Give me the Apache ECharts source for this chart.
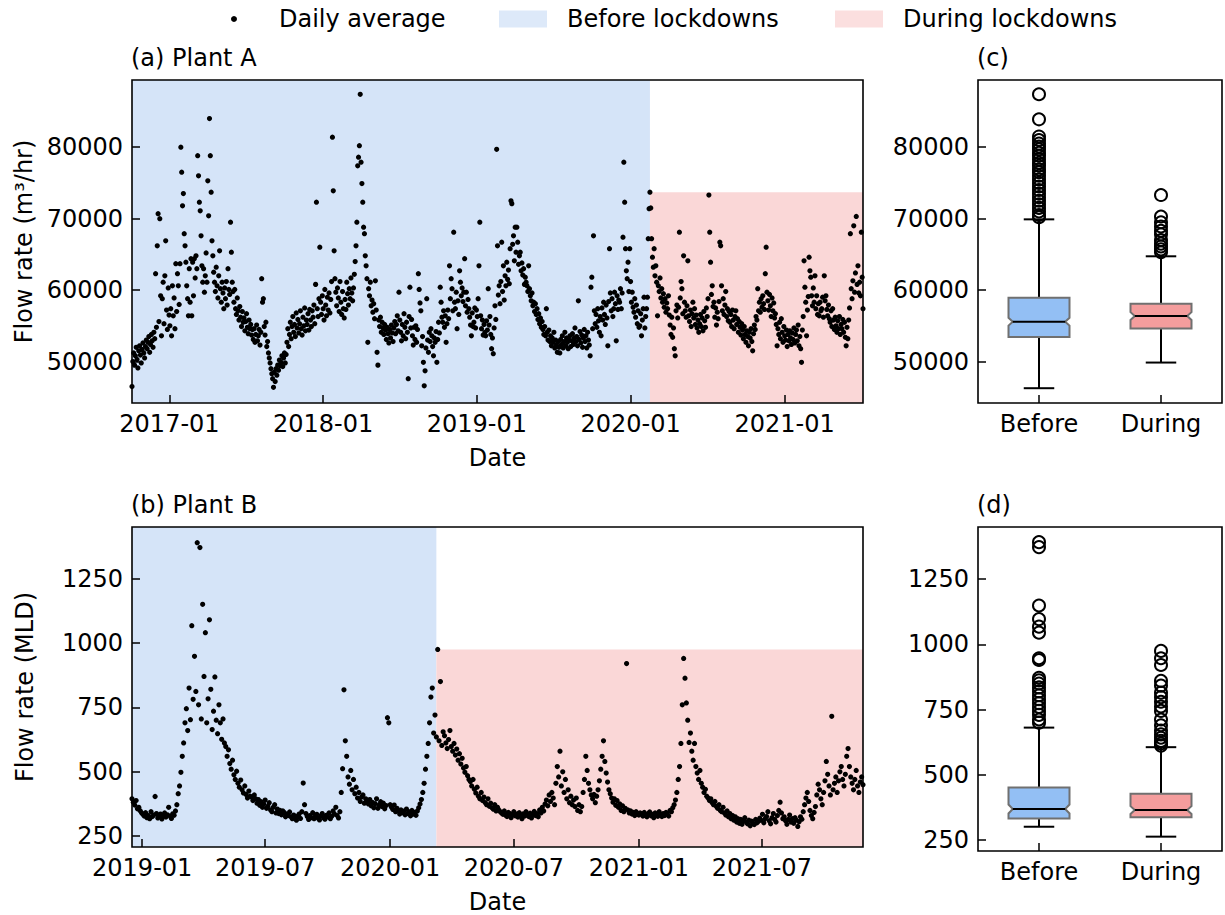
<!DOCTYPE html>
<html>
<head>
<meta charset="utf-8">
<script src="https://cdn.jsdelivr.net/npm/echarts@6/dist/echarts.min.js"></script>
<style>html,body{margin:0;padding:0;background:#fff}#chart{width:1225px;height:915px}</style>
</head>
<body>
<div id="chart"></div>
<script>
// ================= DATA =================
// Sampling step of the daily-average series (days)
const STEP_DAYS = 2;

// Plant A, daily average flow, in units of 100 m3/hr
const plantAStart = '2016-10-04';
const plantALockdown = '2020-02-16';
const plantABefore = [
  465,500,512,495,508,520,503,491,515,522,509,498,517,526,512,505,521,530,518,527,535,513,524,538,529,520,
  541,532,623,548,662,707,556,700,592,536,588,611,553,620,669,572,545,603,565,
  550,574,536,606,564,589,546,637,570,623,606,580,637,800,765,718,735,679,662,639,606,
  588,564,630,583,644,564,639,592,644,617,648,630,788,760,723,
  711,676,634,611,630,597,620,652,611,753,704,840,788,737,669,648,
  625,611,598,632,606,589,620,655,602,583,611,596,574,603,588,612,579,630,601,594,695,653,611,598,
  583,601,574,566,589,571,558,577,562,549,570,555,561,543,556,567,548,539,558,546,552,537,545,531,
  546,527,538,551,529,536,545,523,541,616,583,588,549,537,555,521,
  528,512,505,498,490,483,476,464,485,472,490,481,495,488,502,494,499,508,493,505,512,498,510,
  527,546,521,538,555,532,549,563,541,552,535,568,547,559,540,553,571,546,537,562,550,575,543,558,
  552,567,544,573,558,549,571,562,579,553,608,723,574,563,588,660,583,566,592,574,558,601,579,564,590,572,596,568,587,612,814,739,
  655,616,597,578,603,589,570,612,583,566,598,574,561,587,573,611,595,579,602,588,617,596,585,
  603,622,640,662,695,774,786,802,874,779,749,723,688,679,648,634,616,527,
  602,592,611,578,586,569,581,560,613,572,513,495,558,549,562,541,555,547,538,552,544,531,548,539,526,545,533,551,540,528,547,556,539,552,564,543,597,558,
  541,529,552,536,567,548,532,555,541,476,563,604,547,559,536,523,548,531,550,527,545,623,601,582,
  571,522,535,499,466,487,519,588,530,513,541,528,546,536,521,508,533,527,542,499,531,555,540,
  604,583,562,555,571,548,564,527,553,572,560,634,588,616,602,571,681,583,574,597,546,585,566,627,
  611,592,603,584,597,644,578,597,569,587,574,562,551,536,568,549,555,575,547,572,
  563,588,634,695,564,546,558,537,552,541,536,557,544,602,551,563,538,518,533,511,547,578,559,797,
  662,593,606,581,612,667,598,634,586,620,606,639,615,628,609,658,725,721,664,676,641,688,653,688,667,636,648,653,627,638,621,630,608,618,611,
  606,598,634,602,592,585,596,578,583,570,581,566,574,559,567,553,561,548,556,545,538,549,536,574,541,530,544,528,536,522,533,527,541,519,530,523,513,528,520,512,
  531,524,536,519,528,541,522,533,527,518,530,536,521,529,539,524,533,547,528,535,522,585,531,542,526,537,520,533,545,528,536,519,541,530,523,508,604,618,546,
  676,571,553,566,548,574,557,541,563,536,575,558,583,566,552,579,561,522,584,658,596,571,588,563,574,597,581,529,592,573,586,
  583,602,574,596,674,779,723,658,627,616,639,598,658,612,583,597,576,569,588,562,579,553,571,548,550,567,536,558,574,590,547,563,574,590,672,714
];
const plantADuring = [
  737,715,672,646,632,658,620,634,611,564,606,598,617,589,602,583,595,576,588,569,582,574,592,565,
  551,538,562,534,547,518,508,571,579,561,576,681,589,612,602,567,
  648,583,571,562,578,641,564,556,572,549,567,583,561,574,552,565,547,558,541,553,566,549,561,543,570,557,548,575,
  563,588,733,681,639,594,606,577,583,562,575,551,569,560,584,667,662,606,571,588,566,579,598,563,574,557,570,555,
  566,549,572,558,546,563,571,552,560,541,556,548,537,553,544,532,549,538,527,543,535,522,541,533,546,528,515,539,551,545,563,
  558,602,571,583,569,588,576,592,581,573,623,660,597,585,572,594,578,563,589,571,582,561,567,552,
  522,546,538,555,532,560,541,527,549,536,530,544,521,538,529,543,533,524,540,531,547,526,538,544,529,551,522,535,518,499,544,563,
  641,604,583,536,572,591,646,627,618,592,578,603,583,620,574,592,566,581,564,583,571,574,590,562,620,585,592,573,564,579,560,
  555,571,549,574,558,545,562,550,541,557,546,563,538,552,546,559,541,555,534,522,548,532,558,575,
  679,602,588,613,690,597,624,703,608,634,596,611,592,681,618,574
];

// Plant B, daily average flow, MLD
const plantBStart = '2018-12-17';
const plantBLockdown = '2020-03-09';
const plantBBefore = [
  395,382,371,388,356,362,349,341,
  335,328,341,322,330,318,345,326,332,404,338,321,329,336,317,327,340,324,333,362,328,319,337,331,
  348,372,415,445,498,560,612,690,745,660,825,702,1067,781,948,
  812,1389,760,1370,705,1150,870,1040,690,783,1090,820,664,735,868,700,648,760,690,626,705,612,
  598,560,585,532,510,545,488,470,502,455,440,468,430,418,445,412,398,425,405,
  402,388,410,395,378,392,370,384,362,375,390,358,366,380,352,345,362,372,340,355,338,350,333,348,342,325,336,330,344,
  325,318,332,321,312,328,336,319,345,456,372,338,326,315,330,322,341,318,327,335,320,313,329,338,322,316,331,325,340,318,327,348,336,362,330,321,345,
  420,512,818,620,560,480,452,505,430,470,415,440,398,420,385,402,410,378,395,388,
  375,392,368,381,360,376,395,358,372,384,365,378,356,369,710,690,372,
  362,354,371,345,358,349,336,352,341,347,333,355,338,344,329,350,336,342,331,348,360,375,392,420,455,510,560,610,690,790,825,650,720
];
const plantBDuring = [
  635,975,620,850,602,655,640,612,590,625,660,598,580,610,565,588,545,570,530,552,515,498,520,485,470,
  462,445,470,432,418,440,405,395,420,388,402,380,372,395,366,378,360,355,372,348,362,352,345,
  340,335,348,331,326,342,338,322,333,345,329,336,324,341,330,318,337,328,345,332,326,339,321,334,346,330,338,325,352,340,362,348,375,390,368,410,385,420,398,372,
  455,520,480,580,445,500,420,470,395,430,380,405,372,390,365,398,350,372,345,365,420,470,560,505,455,430,410,
  395,412,380,405,430,465,510,560,620,540,495,460,430,415,398,382,395,370,388,362,375,350,368,345,358,920,352,340,348,336,342,330,345,338,332,340,
  336,328,342,330,325,338,344,329,335,322,340,331,327,345,333,326,338,330,342,336,328,350,345,360,372,390,420,470,520,
  610,760,940,863,767,700,614,650,580,545,610,520,495,470,505,455,440,420,432,405,398,388,
  395,380,372,385,366,358,372,350,345,362,340,332,348,325,338,318,330,312,325,305,318,300,315,296,310,322,305,298,312,290,308,300,295,315,302,
  308,320,312,335,302,318,326,345,310,298,322,338,315,305,330,350,382,340,318,325,310,296,315,332,305,318,300,322,312,288,306,325,316,345,372,398,420,385,350,330,318,342,365,410,452,430,395,372,420,465,540,490,445,410,715,
  430,455,480,420,465,500,520,470,445,490,560,590,520,480,455,430,470,505,445,420,460,480,450
];

// Tick labels
const xTickLabelsA = ['2017-01','2018-01','2019-01','2020-01','2021-01'];
const xTickLabelsB = ['2019-01','2019-07','2020-01','2020-07','2021-01','2021-07'];
const yTicksA = [50000, 60000, 70000, 80000];
const yTicksB = [250, 500, 750, 1000, 1250];
const yRangeA = [44200, 89400];
const yRangeB = [208, 1450];

// Box plots: [lower whisker, Q1, median, Q3, upper whisker] and notch [low, high]
const boxCategories = ['Before', 'During'];
const boxA_before = [46270, 53430, 55580, 58940, 69900];
const boxA_during = [49860, 54640, 56360, 58100, 64730];
const notchA_before = [55030, 56130];
const notchA_during = [55810, 56910];
const boxB_before = [301, 333, 369, 451, 681];
const boxB_during = [263, 337, 365, 427, 606];
const notchB_before = [352, 386];
const notchB_during = [350, 380];
const outliersA_before = [87400,83900,81500,81000,80500,80100,79700,79200,78800,78300,77800,77400,76900,76500,76000,75500,75000,74500,74000,73500,73000,72500,72000,71500,71000,70500,70200];
const outliersA_during = [73300,70300,69500,68900,68300,67800,67000,66500,66100,65700,65300];
const outliersB_before = [1392,1373,1149,1097,1068,1045,947,940,872,862,850,835,820,805,790,775,760,745,730,712,700];
const outliersB_during = [975,947,921,860,842,815,798,780,762,745,712,690,670,655,642,630,620,612];

// ================= BUILD =================
const DAY = 86400000;
const FONT = 'DejaVu Sans';
const BLUE_BG = '#d5e4f8', PINK_BG = '#fad7d7';
const BOX_BLUE = '#93bff4', BOX_RED = '#f49d9d';
function utc(s) { const p = s.split('-').map(Number); return Date.UTC(p[0], p[1] - 1, p[2] || 1); }
function toPoints(start, vals, scale) { const t0 = utc(start); return vals.map((v, i) => [t0 + i * STEP_DAYS * DAY, v * scale]); }

const ptsABefore = toPoints(plantAStart, plantABefore, 100);
const ptsADuring = toPoints(plantALockdown, plantADuring, 100);
const ptsBBefore = toPoints(plantBStart, plantBBefore, 1);
const ptsBDuring = toPoints(plantBLockdown, plantBDuring, 1);
const aMin = ptsABefore[0][0], aMax = ptsADuring[ptsADuring.length - 1][0];
const bMin = ptsBBefore[0][0], bMax = ptsBDuring[ptsBDuring.length - 1][0];
const maxDuringA = Math.max(...plantADuring) * 100;
const maxDuringB = Math.max(...plantBDuring);
const tickTsA = xTickLabelsA.map(utc), tickTsB = xTickLabelsB.map(utc);
const labelMap = {};
xTickLabelsA.forEach(s => labelMap[utc(s)] = s);
xTickLabelsB.forEach(s => labelMap[utc(s)] = s);

const txt = { fontFamily: FONT, fontSize: 24, color: '#000' };
const tickStyle = { color: '#000', width: 1.5 };

function gridDef(left, top, width, height) {
  return { left, top, width, height, show: true, borderColor: '#000', borderWidth: 1.6, backgroundColor: 'rgba(0,0,0,0)', z: 5 };
}
function timeAxis(grid, min, max, ticks) {
  return {
    gridIndex: grid, type: 'value', min, max, z: 6,
    axisLine: { show: false },
    axisTick: { show: true, inside: true, length: 8, lineStyle: tickStyle, customValues: ticks },
    axisLabel: Object.assign({ customValues: ticks, margin: 9, formatter: v => labelMap[v] || '' }, txt),
    splitLine: { show: false },
    name: 'Date', nameLocation: 'middle', nameGap: 43, nameTextStyle: txt
  };
}
function catAxis(grid) {
  return {
    gridIndex: grid, type: 'category', data: boxCategories, z: 6,
    axisLine: { show: false },
    axisTick: { show: true, inside: true, length: 8, alignWithLabel: true, lineStyle: tickStyle },
    axisLabel: Object.assign({ margin: 9 }, txt),
    splitLine: { show: false }
  };
}
function valAxis(grid, range, ticks, name) {
  const ax = {
    gridIndex: grid, type: 'value', min: range[0], max: range[1], z: 6,
    axisLine: { show: false },
    axisTick: { show: true, inside: true, length: 8, lineStyle: tickStyle, customValues: ticks },
    axisLabel: Object.assign({ customValues: ticks, margin: 9, formatter: v => String(v) }, txt),
    splitLine: { show: false }
  };
  if (name) { ax.name = name; ax.nameLocation = 'middle'; ax.nameGap = 95; ax.nameTextStyle = txt; }
  return ax;
}

function renderBox(params, api) {
  const x = api.value(0);
  const vmin = api.value(1), q1 = api.value(2), med = api.value(3), q3 = api.value(4), vmax = api.value(5);
  const nlo = api.value(6), nhi = api.value(7);
  const band = api.size([1, 0])[0];
  const w = band * 0.5;
  const cx = api.coord([x, med])[0];
  const L = cx - w / 2, R = cx + w / 2;
  const y = v => api.coord([x, v])[1];
  const ind = w * 0.07;
  const cap = w / 4;
  const line = (x1, y1, x2, y2) => ({ type: 'line', shape: { x1, y1, x2, y2 }, style: { stroke: '#000', lineWidth: 2 } });
  return {
    type: 'group',
    children: [
      line(cx, y(q3), cx, y(vmax)),
      line(cx, y(q1), cx, y(vmin)),
      line(cx - cap, y(vmax), cx + cap, y(vmax)),
      line(cx - cap, y(vmin), cx + cap, y(vmin)),
      {
        type: 'polygon',
        shape: { points: [[L, y(q1)], [R, y(q1)], [R, y(nlo)], [R - ind, y(med)], [R, y(nhi)], [R, y(q3)], [L, y(q3)], [L, y(nhi)], [L + ind, y(med)], [L, y(nlo)]] },
        style: { fill: api.visual('color'), stroke: '#707070', lineWidth: 2 }
      },
      line(L + ind, y(med), R - ind, y(med))
    ]
  };
}

function boxSeries(xi, yi, before, nb, during, nd) {
  return {
    type: 'custom', xAxisIndex: xi, yAxisIndex: yi, renderItem: renderBox, z: 3, silent: true,
    encode: { x: 0, y: [1, 2, 3, 4, 5] },
    data: [
      { value: [0].concat(before, nb), itemStyle: { color: BOX_BLUE } },
      { value: [1].concat(during, nd), itemStyle: { color: BOX_RED } }
    ]
  };
}
function outlierSeries(xi, yi, ob, od) {
  return {
    type: 'scatter', xAxisIndex: xi, yAxisIndex: yi, z: 4, silent: true,
    symbol: 'circle', symbolSize: 12,
    itemStyle: { color: 'rgba(0,0,0,0)', borderColor: '#000', borderWidth: 2, opacity: 1 },
    data: ob.map(v => [0, v]).concat(od.map(v => [1, v]))
  };
}
function bandSeries(name, color, xi, yi, area) {
  return {
    name, type: 'scatter', xAxisIndex: xi, yAxisIndex: yi, data: [], z: 1, silent: true,
    itemStyle: { color },
    markArea: { silent: true, itemStyle: { color, opacity: 1 }, label: { show: false }, data: [area] }
  };
}
function dotSeries(xi, yi, pts) {
  return {
    name: 'Daily average', type: 'scatter', xAxisIndex: xi, yAxisIndex: yi, data: pts, z: 3, silent: true,
    symbol: 'circle', symbolSize: 5.2, itemStyle: { color: '#000', opacity: 1 }
  };
}

const option = {
  animation: false,
  backgroundColor: '#fff',
  title: [
    { text: '(a) Plant A', left: 131, top: 46, padding: 0, textStyle: Object.assign({ fontWeight: 'normal' }, txt) },
    { text: '(c)', left: 977, top: 46, padding: 0, textStyle: Object.assign({ fontWeight: 'normal' }, txt) },
    { text: '(b) Plant B', left: 131, top: 493, padding: 0, textStyle: Object.assign({ fontWeight: 'normal' }, txt) },
    { text: '(d)', left: 977, top: 493, padding: 0, textStyle: Object.assign({ fontWeight: 'normal' }, txt) }
  ],
  legend: [
    { data: [{ name: 'Daily average', icon: 'circle' }], left: 231, top: 7, padding: 0, itemWidth: 6, itemHeight: 6, selectedMode: false,
      textStyle: Object.assign({ padding: [0, 0, 0, 37] }, txt) },
    { data: [{ name: 'Before lockdowns', icon: 'rect' }], left: 499, top: 7, padding: 0, itemWidth: 48, itemHeight: 17, selectedMode: false,
      textStyle: Object.assign({ padding: [0, 0, 0, 15] }, txt) },
    { data: [{ name: 'During lockdowns', icon: 'rect' }], left: 835, top: 7, padding: 0, itemWidth: 48, itemHeight: 17, selectedMode: false,
      textStyle: Object.assign({ padding: [0, 0, 0, 15] }, txt) }
  ],
  grid: [
    gridDef(132, 80, 731, 323),
    gridDef(978, 80, 244, 323),
    gridDef(132, 527, 731, 324),
    gridDef(978, 527, 244, 324)
  ],
  xAxis: [
    timeAxis(0, aMin, aMax, tickTsA),
    catAxis(1),
    timeAxis(2, bMin, bMax, tickTsB),
    catAxis(3)
  ],
  yAxis: [
    valAxis(0, yRangeA, yTicksA, 'Flow rate (m³/hr)'),
    valAxis(1, yRangeA, yTicksA),
    valAxis(2, yRangeB, yTicksB, 'Flow rate (MLD)'),
    valAxis(3, yRangeB, yTicksB)
  ],
  series: [
    bandSeries('Before lockdowns', BLUE_BG, 0, 0, [{ xAxis: aMin }, { xAxis: utc(plantALockdown) }]),
    bandSeries('During lockdowns', PINK_BG, 0, 0, [{ xAxis: utc(plantALockdown), yAxis: yRangeA[0] }, { xAxis: aMax, yAxis: maxDuringA }]),
    bandSeries('Before lockdowns', BLUE_BG, 2, 2, [{ xAxis: bMin }, { xAxis: utc(plantBLockdown) }]),
    bandSeries('During lockdowns', PINK_BG, 2, 2, [{ xAxis: utc(plantBLockdown), yAxis: yRangeB[0] }, { xAxis: bMax, yAxis: maxDuringB }]),
    dotSeries(0, 0, ptsABefore.concat(ptsADuring)),
    dotSeries(2, 2, ptsBBefore.concat(ptsBDuring)),
    boxSeries(1, 1, boxA_before, notchA_before, boxA_during, notchA_during),
    outlierSeries(1, 1, outliersA_before, outliersA_during),
    boxSeries(3, 3, boxB_before, notchB_before, boxB_during, notchB_during),
    outlierSeries(3, 3, outliersB_before, outliersB_during)
  ]
};

const chart = echarts.init(document.getElementById('chart'), null, { renderer: 'svg', width: 1225, height: 915 });
chart.setOption(option);
</script>
</body>
</html>
